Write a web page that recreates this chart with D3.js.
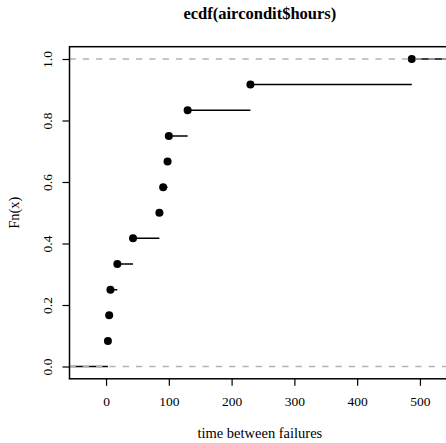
<!DOCTYPE html>
<html>
<head>
<meta charset="utf-8">
<script src="https://cdn.jsdelivr.net/npm/d3@7"></script>
<style>
  html, body { margin: 0; padding: 0; background: #fff; }
  svg { display: block; }
  text { font-family: "Liberation Serif", "DejaVu Serif", serif; fill: #000; }
</style>
</head>
<body>
<svg id="chart" width="446" height="443"></svg>
<script>
// Air-conditioning failure intervals (hours) and their empirical CDF
const hours = [3, 5, 7, 18, 43, 85, 91, 98, 100, 130, 230, 487];
const fn = [0.0833, 0.1667, 0.25, 0.3333, 0.4167, 0.5, 0.5833, 0.6667, 0.75, 0.8333, 0.9167, 1.0];
const xTicks = [0, 100, 200, 300, 400, 500];
const yTicks = [0.0, 0.2, 0.4, 0.6, 0.8, 1.0];
const refLines = [0, 1];

const xDomain = [-58.2, 548.2];
const yDomain = [-0.04, 1.04];

const plot = { left: 69.5, right: 450.2, top: 46.7, bottom: 378.8 };

const svg = d3.select("#chart");
const x = d3.scaleLinear().domain(xDomain).range([plot.left, plot.right]);
const y = d3.scaleLinear().domain(yDomain).range([plot.bottom, plot.top]);

svg.append("defs").append("clipPath").attr("id", "plotClip")
  .append("rect")
  .attr("x", plot.left).attr("y", plot.top)
  .attr("width", plot.right - plot.left).attr("height", plot.bottom - plot.top);

const g = svg.append("g").attr("clip-path", "url(#plotClip)");

// Horizontal steps: level 0 before the first knot, then each level to the next knot
const steps = [{ x0: xDomain[0] - 50, x1: hours[0], v: 0 }];
hours.forEach((h, i) => {
  steps.push({ x0: h, x1: i + 1 < hours.length ? hours[i + 1] : xDomain[1] + 50, v: fn[i] });
});

g.selectAll("line.step").data(steps).join("line")
  .attr("class", "step")
  .attr("x1", d => x(d.x0)).attr("x2", d => x(d.x1))
  .attr("y1", d => y(d.v)).attr("y2", d => y(d.v))
  .attr("stroke", "#000").attr("stroke-width", 1.5);

g.selectAll("circle.pt").data(hours).join("circle")
  .attr("class", "pt")
  .attr("cx", d => x(d)).attr("cy", (d, i) => y(fn[i]))
  .attr("r", 4).attr("fill", "#000");

// Dashed reference lines at 0 and 1
g.selectAll("line.ref").data(refLines).join("line")
  .attr("class", "ref")
  .attr("x1", plot.left).attr("x2", plot.right)
  .attr("y1", d => y(d)).attr("y2", d => y(d))
  .attr("stroke", "#b3b3b3").attr("stroke-width", 1.5)
  .attr("stroke-dasharray", "6.3,7");

// Frame
svg.append("rect")
  .attr("x", plot.left).attr("y", plot.top)
  .attr("width", plot.right - plot.left).attr("height", plot.bottom - plot.top)
  .attr("fill", "none").attr("stroke", "#000").attr("stroke-width", 1.5);

// Axes
const xAxis = svg.append("g")
  .attr("transform", `translate(0,${plot.bottom})`)
  .call(d3.axisBottom(x).tickValues(xTicks).tickSize(7).tickPadding(11).tickFormat(d3.format("d")));
xAxis.select(".domain").remove();
xAxis.selectAll(".tick line").attr("stroke", "#000").attr("stroke-width", 1.2);
xAxis.selectAll(".tick text").attr("font-size", 13.5).attr("font-family", "Liberation Serif, serif");

const yAxis = svg.append("g")
  .attr("transform", `translate(${plot.left},0)`)
  .call(d3.axisLeft(y).tickValues(yTicks).tickSize(7).tickFormat(d3.format(".1f")));
yAxis.select(".domain").remove();
yAxis.selectAll(".tick line").attr("stroke", "#000").attr("stroke-width", 1.2);
yAxis.selectAll(".tick text")
  .attr("font-size", 13.5).attr("font-family", "Liberation Serif, serif")
  .attr("x", null).attr("dy", null)
  .attr("text-anchor", "middle")
  .attr("transform", `translate(${52 - plot.left},0) rotate(-90)`);

// Titles
svg.append("text")
  .attr("x", (plot.left + plot.right) / 2).attr("y", 19)
  .attr("text-anchor", "middle").attr("font-size", 16.5).attr("font-weight", "bold")
  .text("ecdf(aircondit$hours)");

svg.append("text")
  .attr("x", (plot.left + plot.right) / 2).attr("y", 438)
  .attr("text-anchor", "middle").attr("font-size", 14.5)
  .text("time between failures");

svg.append("text")
  .attr("transform", `translate(19,${(plot.top + plot.bottom) / 2}) rotate(-90)`)
  .attr("text-anchor", "middle").attr("font-size", 14.5)
  .text("Fn(x)");
</script>
</body>
</html>
